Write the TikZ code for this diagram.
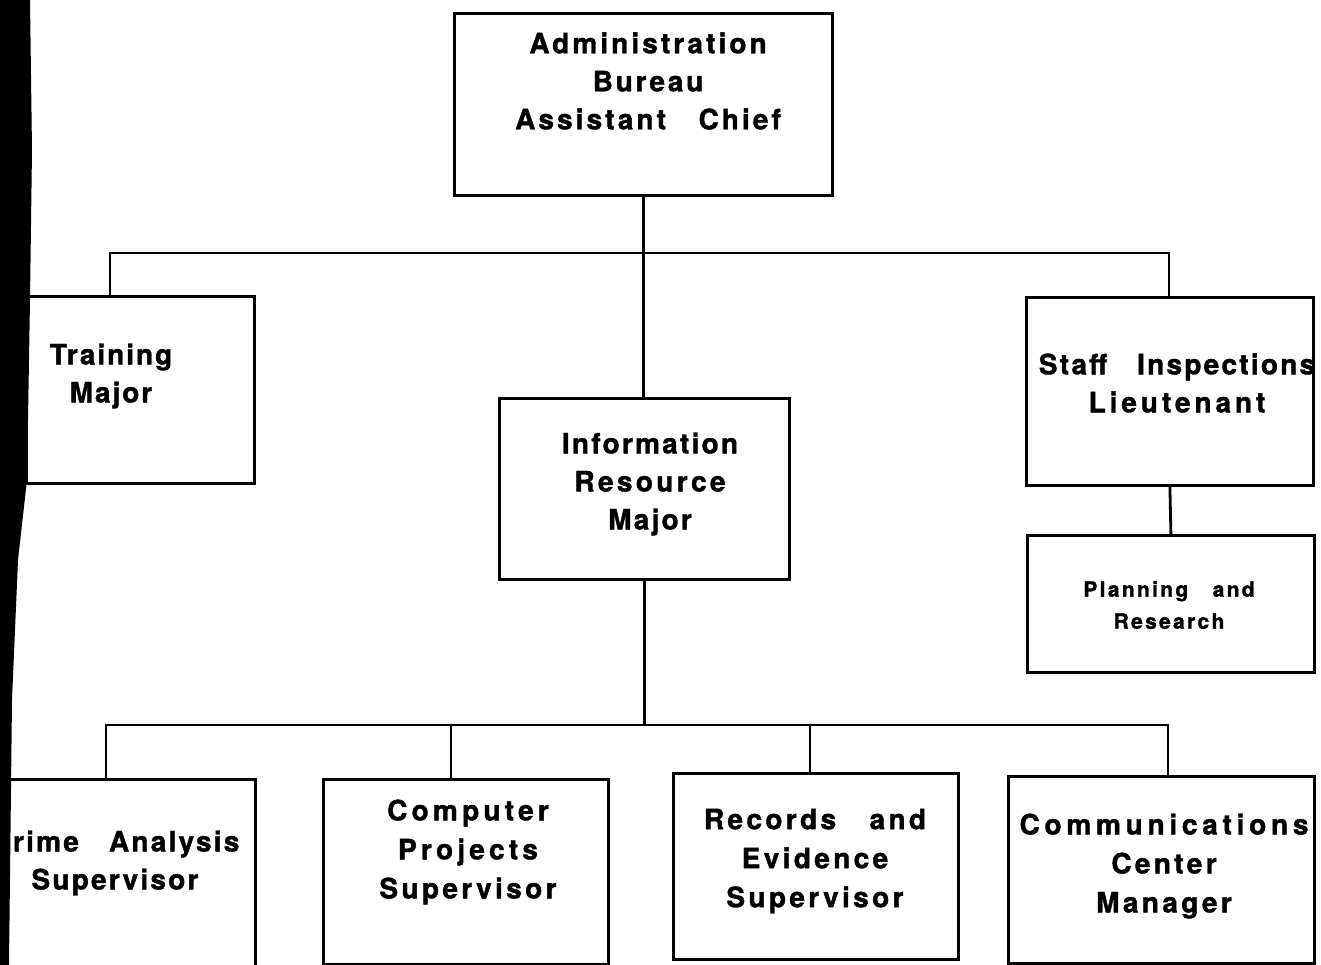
\documentclass[tikz,border=0pt]{standalone}
\usepackage{fontspec}
\setmainfont{texgyreheros-bold}[Extension=.otf,LetterSpace=11,FakeBold=1.4]
\newcommand{\lsp}[1]{\addfontfeatures{LetterSpace=#1}}
\begin{document}
\begin{tikzpicture}[x=1pt,y=-1pt,
  box/.style={draw=black,line width=2.8pt,anchor=north west,inner sep=0pt},
  lbl/.style={align=center,inner sep=0pt,font=\fontsize{28}{38}\selectfont},
  small/.style={align=center,inner sep=0pt,font=\fontsize{21}{32}\selectfont\lsp{11}},
  wire/.style={line width=2.8pt,line cap=rect}]
\useasboundingbox (0,0) rectangle (1321,965);
\clip (0,0) rectangle (1321,965);
\fill[white] (0,0) rectangle (1321,965);
% boxes
\node[box,minimum width=378pt,minimum height=182pt] (admin) at (453,12) {};
\node[box,minimum width=228pt,minimum height=187pt] (training) at (25,295) {};
\node[box,minimum width=290pt,minimum height=181pt] (info) at (498,397) {};
\node[box,minimum width=287pt,minimum height=188pt] (staff) at (1025,296) {};
\node[box,minimum width=287pt,minimum height=137pt] (planning) at (1026,534) {};
\node[box,minimum width=284pt,minimum height=220pt] (crime) at (-30,778) {};
\node[box,minimum width=285pt,minimum height=185pt] (computer) at (322,778) {};
\node[box,minimum width=285pt,minimum height=186pt] (records) at (672,772) {};
\node[box,minimum width=306pt,minimum height=187pt] (comm) at (1007,775) {};
% labels
\node[lbl] (tadmin) at (648,81) {Administration\\\lsp{10}Bureau\\Assistant\ \ \ Chief};
\node[lbl,font=\fontsize{28}{38}\selectfont\lsp{7}] (ttraining) at (111,376) {Training\\Major};
\node[lbl,font=\fontsize{28}{38}\selectfont\lsp{8}] (tinfo) at (650,484) {Information\\\lsp{12}Resource\\\lsp{8}Major};
\node[lbl,font=\fontsize{28}{38}\selectfont\lsp{8}] (tstaff) at (1177,383) {Staff\ \ \ Inspections\\\lsp{14}Lieutenant};
\node[small] (tplanning) at (1169,605) {Planning\ \ \ and\\Research};
\node[lbl,font=\fontsize{28}{38}\selectfont\lsp{8}] (tcrime) at (115,863) {Crime\ \ \ Analysis\\Supervisor};
\node[lbl,font=\fontsize{28}{39}\selectfont\lsp{15}] (tcomputer) at (468,852) {Computer\\Projects\\\lsp{12}Supervisor};
\node[lbl,font=\fontsize{28}{39}\selectfont\lsp{12}] (trecords) at (815,861) {Records\ \ \ and\\Evidence\\Supervisor};
\node[lbl,font=\fontsize{28}{39}\selectfont\lsp{17}] (tcomm) at (1164,866) {Communications\\\lsp{12}Center\\\lsp{12}Manager};
% connectors
\coordinate (b1L) at (110,253);
\coordinate (b1R) at (1169,253);
\coordinate (b2L) at (106,725);
\coordinate (b2R) at (1168,725);
\coordinate (b2a) at (451,725);
\coordinate (b2b) at (810,725);
\draw[wire] (admin.south) -- (admin.south |- info.north);
\draw[wire] (training.north -| b1L) -- (b1L) -- (b1R) -- (staff.north -| b1R);
\draw[wire] (staff.south) -- (planning.north);
\draw[wire] (info.south) -- (info.south |- b2L);
\draw[wire] (crime.north -| b2L) -- (b2L) -- (b2R) -- (comm.north -| b2R);
\draw[wire] (b2a) -- (computer.north -| b2a);
\draw[wire] (b2b) -- (records.north -| b2b);
% scan shadow on left edge
\fill[black] (0,0) -- (30,0) -- (32,150) -- (30,300) -- (27,480) -- (18,560) -- (12,700) -- (9,965) -- (0,965) -- cycle;
\end{tikzpicture}
\end{document}
